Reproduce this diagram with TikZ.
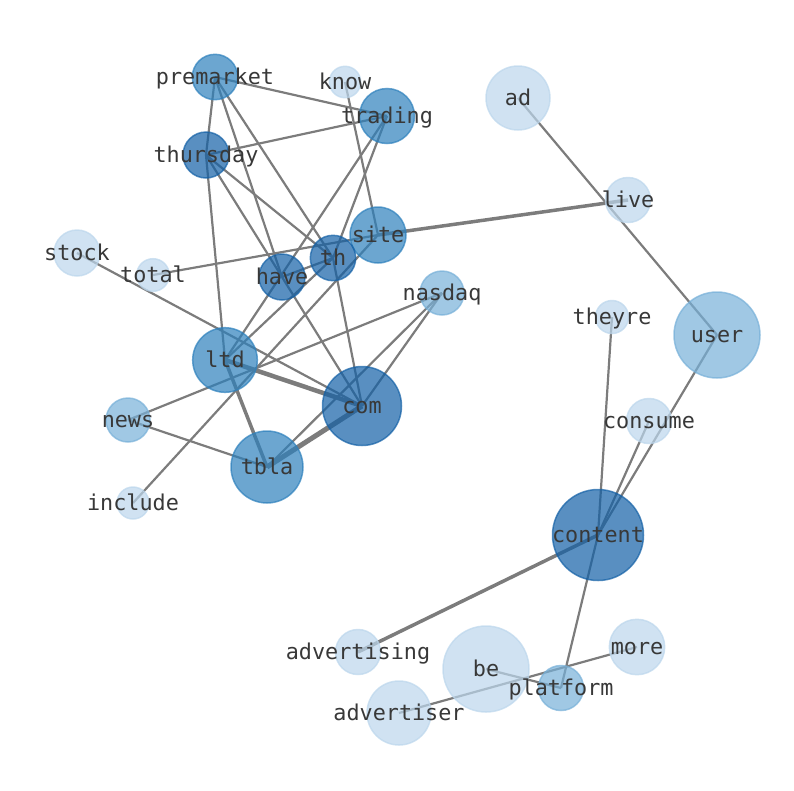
\documentclass[tikz,border=0pt]{standalone}
\usepackage{fontspec}
\newfontfamily\lblfont{DejaVu Sans Mono}
\usepackage{tikz}
\pgfdeclarelayer{bg}
\pgfsetlayers{bg,main}
\definecolor{dkblue}{RGB}{19,96,166}
\definecolor{mdblue}{RGB}{45,128,188}
\definecolor{ltblue}{RGB}{119,176,216}
\definecolor{pablue}{RGB}{188,214,236}
\definecolor{edgegray}{RGB}{124,124,124}
\definecolor{lblgray}{RGB}{56,56,56}
\tikzset{
  vert/.style 2 args={circle, inner sep=0pt, minimum size=2*#1pt, fill=#2, draw=#2, line width=1.5pt, opacity=0.7},
  lbl/.style={font=\lblfont\fontsize{21.8}{26}\selectfont, text=lblgray, inner sep=0pt, text height=16.6pt, text depth=5pt, yshift=-1.5pt},
  link/.style={draw=edgegray, line width=2.2pt},
  heavy/.style={draw=edgegray, line width=#1pt}
}
\begin{document}
\begin{tikzpicture}[x=1pt, y=-1pt]
\useasboundingbox (0,0) rectangle (794,790);
%%%%% Words %%%%%
\foreach \n/\x/\y/\r/\c in {premarket/215/77/22.7/mdblue, know/345/82/15.7/pablue, trading/387/116/27.5/mdblue,
  ad/518/98/32/pablue, thursday/206/155/23/dkblue, live/628/200/22.5/pablue, stock/77/253/23/pablue,
  total/153/275/16.3/pablue, site/378/235/28/mdblue, th/333/258/22.7/dkblue, have/282/277/23/dkblue,
  nasdaq/442/293/22/ltblue, theyre/612/317/16.5/pablue, user/717/335/43/ltblue, ltd/225/360/32.3/mdblue,
  com/362/406/39.5/dkblue, news/128/420/22/ltblue, consume/649/421/22.5/pablue, tbla/267/467/36/mdblue,
  include/133/503/16/pablue, content/598/535/45.5/dkblue, advertising/358/652/22.5/pablue, be/486/669/43/pablue,
  more/637/647/27.7/pablue, platform/561/688/22.5/ltblue, advertiser/399/713/32/pablue}{
\node[vert={\r}{\c}] (\n) at (\x,\y) {};
}
%%%%% Links %%%%%
\begin{pgfonlayer}{bg}
\foreach \a/\b in {premarket/trading, premarket/thursday, premarket/have, premarket/th, know/site,
  thursday/trading, thursday/have, thursday/th, thursday/ltd, trading/ltd, trading/th, total/site,
  stock/com, site/include, have/th, have/com, th/ltd, th/com, nasdaq/news, nasdaq/com, nasdaq/tbla,
  news/tbla, ad/user, theyre/content, user/content, consume/content, content/platform, be/platform,
  advertiser/more}{
\draw[link] (\a.center)--(\b.center);
}
\foreach \a/\b/\w in {ltd/com/4.5, com/tbla/5, ltd/tbla/3.5, site/live/3.5, content/advertising/3.5}{
\draw[heavy=\w] (\a.center)--(\b.center);
}
\end{pgfonlayer}
%%%%% Labels %%%%%
\foreach \n in {premarket, know, trading, ad, thursday, live, stock, total, site, th, have, nasdaq, theyre,
  user, ltd, com, news, consume, tbla, include, content, advertising, be, more, platform, advertiser}{
\node[lbl] (\n-lbl) at (\n) {\n};
}
\end{tikzpicture}
\end{document}
